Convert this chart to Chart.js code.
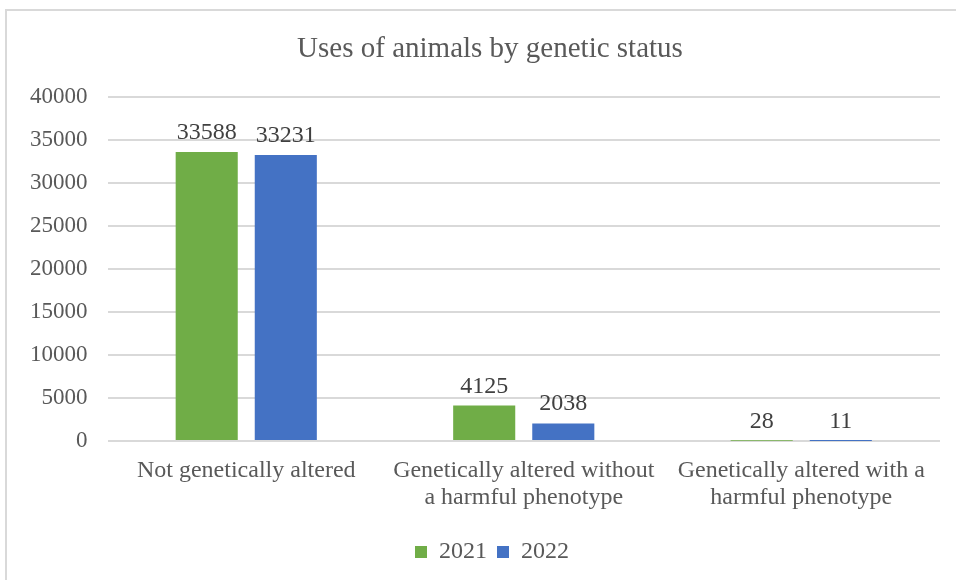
<!DOCTYPE html>
<html>
<head>
<meta charset="utf-8">
<script src="https://cdn.jsdelivr.net/npm/chart.js@4.4.0/dist/chart.umd.min.js"></script>
<style>
    body { margin: 0; background: #fff; }
    #frame {
        position: absolute;
        left: 5px;
        top: 9px;
        width: 960px;
        height: 580px;
        border-left: 2px solid #d9d9d9;
        border-top: 2px solid #d9d9d9;
    }
    #wrap {
        position: absolute;
        left: 0;
        top: 0;
        width: 956px;
        height: 580px;
    }
</style>
</head>
<body>
<div id="frame"></div>
<div id="wrap"><canvas id="chart"></canvas></div>
<script>
// Dados do gráfico
const categories = [
    ['Not genetically altered'],
    ['Genetically altered without', 'a harmful phenotype'],
    ['Genetically altered with a', 'harmful phenotype']
];
const years = ['2021', '2022'];
const values2021 = [33588, 4125, 28];
const values2022 = [33231, 2038, 11];
const yTicks = [0, 5000, 10000, 15000, 20000, 25000, 30000, 35000, 40000];

const textColor = '#595959';
const fontFamily = '"Liberation Serif", "Times New Roman", serif';

// Plugin para escrever os valores acima das barras
const valueLabels = {
    id: 'valueLabels',
    afterDatasetsDraw(chart) {
        const ctx = chart.ctx;
        ctx.save();
        ctx.font = '24px ' + fontFamily;
        ctx.fillStyle = '#404040';
        ctx.textAlign = 'center';
        ctx.textBaseline = 'alphabetic';
        chart.data.datasets.forEach((ds, i) => {
            const meta = chart.getDatasetMeta(i);
            meta.data.forEach((bar, j) => {
                ctx.fillText(String(ds.data[j]), bar.x, bar.y - 13);
            });
        });
        ctx.restore();
    }
};

// Desloca título e legenda um pouco para a direita, como no original
const boxShift = {
    id: 'boxShift',
    afterLayout(chart) {
        const lg = chart.legend;
        if (lg) {
            lg.left += 17;
            lg.right += 17;
            lg.adjustHitBoxes();
        }
        const tt = chart.titleBlock;
        if (tt) {
            tt.left += 15;
            tt.right += 15;
        }
    }
};

new Chart(document.getElementById('chart'), {
    type: 'bar',
    data: {
        labels: categories,
        datasets: [{
            label: years[0],
            data: values2021,
            backgroundColor: '#70ad47',
            categoryPercentage: 0.57,
            barPercentage: 0.785
        }, {
            label: years[1],
            data: values2022,
            backgroundColor: '#4472c4',
            categoryPercentage: 0.57,
            barPercentage: 0.785
        }]
    },
    options: {
        responsive: true,
        maintainAspectRatio: false,
        animation: false,
        layout: {
            padding: { top: 0, right: 16, left: 10, bottom: 6 }
        },
        plugins: {
            title: {
                display: true,
                text: 'Uses of animals by genetic status',
                color: textColor,
                font: { family: fontFamily, size: 29, weight: 'normal' },
                padding: { top: 32, bottom: 30 }
            },
            legend: {
                position: 'bottom',
                labels: {
                    color: textColor,
                    font: { family: fontFamily, size: 24 },
                    boxWidth: 12,
                    boxHeight: 12,
                    padding: 10
                }
            },
            tooltip: { enabled: false }
        },
        scales: {
            x: {
                grid: { display: false },
                border: { display: false },
                afterFit: axis => { axis.height += 11; },
                ticks: {
                    color: textColor,
                    font: { family: fontFamily, size: 24, lineHeight: 1.125 },
                    padding: 8,
                    maxRotation: 0
                }
            },
            y: {
                min: 0,
                max: 40000,
                afterBuildTicks: axis => {
                    axis.ticks = yTicks.map(v => ({ value: v }));
                },
                grid: { color: '#d9d9d9', lineWidth: 2, drawTicks: false },
                border: { display: false },
                ticks: {
                    color: textColor,
                    font: { family: fontFamily, size: 23 },
                    padding: 20,
                    callback: value => String(value)
                }
            }
        }
    },
    plugins: [valueLabels, boxShift]
});
</script>
</body>
</html>
